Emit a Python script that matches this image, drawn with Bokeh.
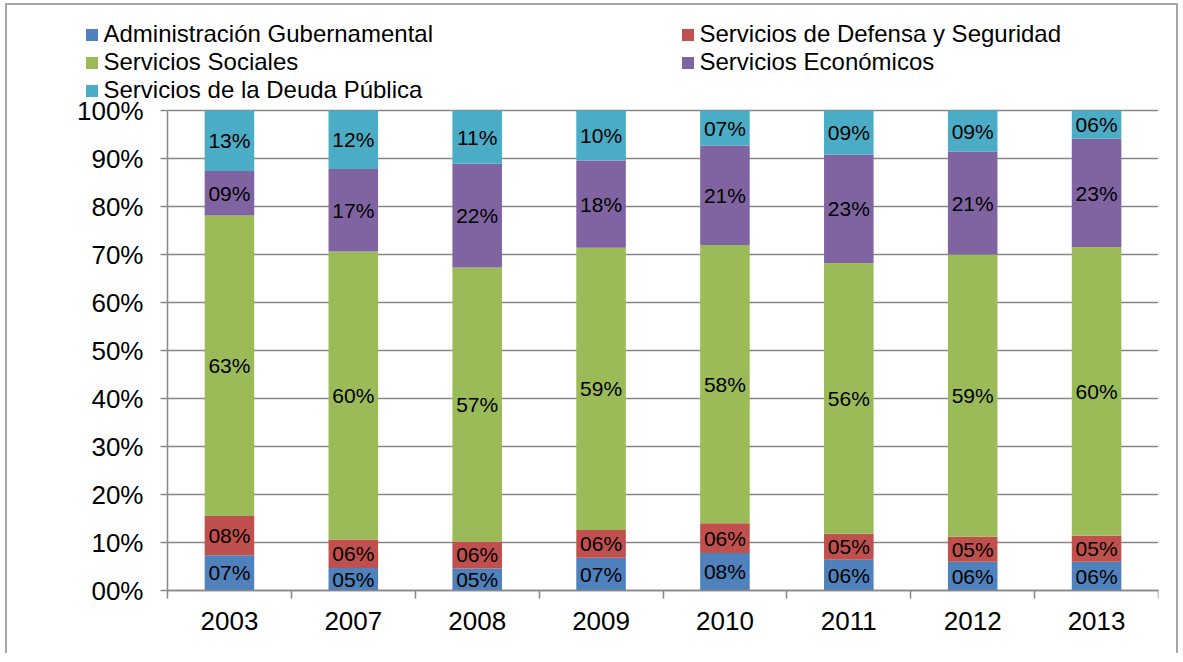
import numpy as np
from bokeh.plotting import figure
from bokeh.models import (ColumnDataSource, Range1d, FixedTicker, Legend, LegendItem,
                          CustomJSTickFormatter)
from bokeh.core.properties import value
from bokeh.embed import file_html
from bokeh.resources import INLINE

# ---------------- data ----------------
years = ["2003", "2007", "2008", "2009", "2010", "2011", "2012", "2013"]
series_names = ["Administración Gubernamental", "Servicios de Defensa y Seguridad",
                "Servicios Sociales", "Servicios Económicos", "Servicios de la Deuda Pública"]
admin      = [7.35, 4.7, 4.6, 6.8, 7.8, 6.4, 6.0, 6.0]
defensa    = [8.15, 5.9, 5.6, 5.8, 6.2, 5.4, 5.2, 5.4]
sociales   = [62.6, 60.0, 57.1, 58.8, 58.0, 56.4, 58.8, 60.1]
economicos = [9.3, 17.2, 21.6, 18.2, 20.7, 22.6, 21.4, 22.6]
deuda      = [12.6, 12.2, 11.1, 10.4, 7.3, 9.2, 8.6, 5.9]
y_ticks = [0, 10, 20, 30, 40, 50, 60, 70, 80, 90, 100]

colors = ["#4F81BD", "#C0504D", "#9BBB59", "#8064A2", "#4BACC6"]
series = [admin, defensa, sociales, economicos, deuda]

FONT = "Liberation Sans"
GRAY = "#878787"

n = len(years)
xc = np.arange(n) + 0.5

# ---------------- layout (pixels) ----------------
W, H = 1173, 650
BORDER_L, BORDER_R, BORDER_T, BORDER_B = 13, 22, 7, 5
LEFT_PAD = 147        # room left of the value axis (inside frame) for tick labels / legend
TOP_PAD = 98          # room above the 100% line (inside frame) for the legend
BOTTOM_PAD = 60       # room below the 0% line (inside frame) for category labels
PLOT_W = W - BORDER_L - BORDER_R - LEFT_PAD
PLOT_H = H - BORDER_T - BORDER_B - TOP_PAD - BOTTOM_PAD
x_start = -LEFT_PAD * n / PLOT_W
y_start = -BOTTOM_PAD * 100 / PLOT_H
y_end = 100 + TOP_PAD * 100 / PLOT_H

p = figure(width=W, height=H, x_range=Range1d(x_start, n), y_range=Range1d(y_start, y_end),
           output_backend="svg", toolbar_location=None,
           min_border_left=BORDER_L, min_border_right=BORDER_R,
           min_border_top=BORDER_T, min_border_bottom=BORDER_B)
p.outline_line_color = None
p.background_fill_color = "white"
p.border_fill_color = "white"
p.styles = {"border-left": "2px solid #a6a6a6", "border-top": "2px solid #a6a6a6",
            "border-right": "2px solid #a6a6a6", "margin-left": "5px", "margin-top": "3px"}

# horizontal gridlines, only across the category area
p.xgrid.visible = False
p.ygrid.visible = False
p.segment(x0=[0] * len(y_ticks), x1=[n] * len(y_ticks), y0=y_ticks, y1=y_ticks,
          line_color=GRAY, line_width=1.5)

bottom = np.zeros(n)
renderers = []
for name, vals, col in zip(series_names, series, colors):
    vals = np.array(vals, dtype=float)
    top = bottom + vals
    src = ColumnDataSource(dict(
        x=xc, bottom=bottom.copy(), top=top.copy(), mid=(bottom + top) / 2,
        label=[f"{int(round(v)):02d}%" for v in vals]))
    r = p.vbar(x="x", width=0.4, bottom="bottom", top="top", source=src,
               fill_color=col, line_color=None)
    p.text(x="x", y="mid", text="label", source=src, text_align="center",
           text_baseline="middle", text_font=value(FONT), text_font_size="21px",
           text_color="black")
    renderers.append(r)
    bottom = top

# y axis, drawn at x = 0
p.yaxis.fixed_location = 0
p.yaxis.bounds = (0, 100)
p.yaxis.ticker = FixedTicker(ticks=y_ticks)
p.yaxis.formatter = CustomJSTickFormatter(code="return (tick < 10 ? '0' : '') + tick.toFixed(0) + '%';")
p.yaxis.axis_line_color = GRAY
p.yaxis.axis_line_width = 1.5
p.yaxis.major_tick_line_color = GRAY
p.yaxis.major_tick_line_width = 1.5
p.yaxis.major_tick_in = 0
p.yaxis.major_tick_out = 7
p.yaxis.minor_tick_line_color = None
p.yaxis.major_label_text_font = FONT
p.yaxis.major_label_text_font_size = "26px"
p.yaxis.major_label_text_color = "black"
p.yaxis.major_label_standoff = 17

# x axis, drawn at y = 0: labels at category centers, tick marks at category boundaries
p.xaxis.fixed_location = 0
p.xaxis.bounds = (0, n)
p.xaxis.ticker = FixedTicker(ticks=list(xc), minor_ticks=list(range(n + 1)))
p.xaxis.formatter = CustomJSTickFormatter(args=dict(labels=years),
                                          code="return labels[Math.floor(tick)];")
p.xaxis.axis_line_color = GRAY
p.xaxis.axis_line_width = 1.5
p.xaxis.major_tick_line_color = None
p.xaxis.major_tick_in = 0
p.xaxis.major_tick_out = 0
p.xaxis.minor_tick_line_color = GRAY
p.xaxis.minor_tick_line_width = 1.5
p.xaxis.minor_tick_in = 0
p.xaxis.minor_tick_out = 8
p.xaxis.major_label_text_font = FONT
p.xaxis.major_label_text_font_size = "26px"
p.xaxis.major_label_text_color = "black"
p.xaxis.major_label_standoff = 13

# legend: two columns in the space above the 100% line
def make_legend(idx, loc):
    return Legend(items=[LegendItem(label=series_names[i], renderers=[renderers[i]]) for i in idx],
                  location=loc, orientation="vertical",
                  glyph_width=15, glyph_height=15, label_standoff=5,
                  label_text_font=FONT, label_text_font_size="24px", label_text_color="black",
                  spacing=0, padding=0, margin=0,
                  border_line_alpha=0, background_fill_alpha=0)

LEG_BOTTOM = BOTTOM_PAD + PLOT_H   # frame-relative y of the 100% line
p.add_layout(make_legend([0, 2, 4], (63.5, LEG_BOTTOM + 6)), "center")
p.add_layout(make_legend([1, 3], (659.5, LEG_BOTTOM + 34)), "center")

open("out.html", "w").write(file_html(p, INLINE))
